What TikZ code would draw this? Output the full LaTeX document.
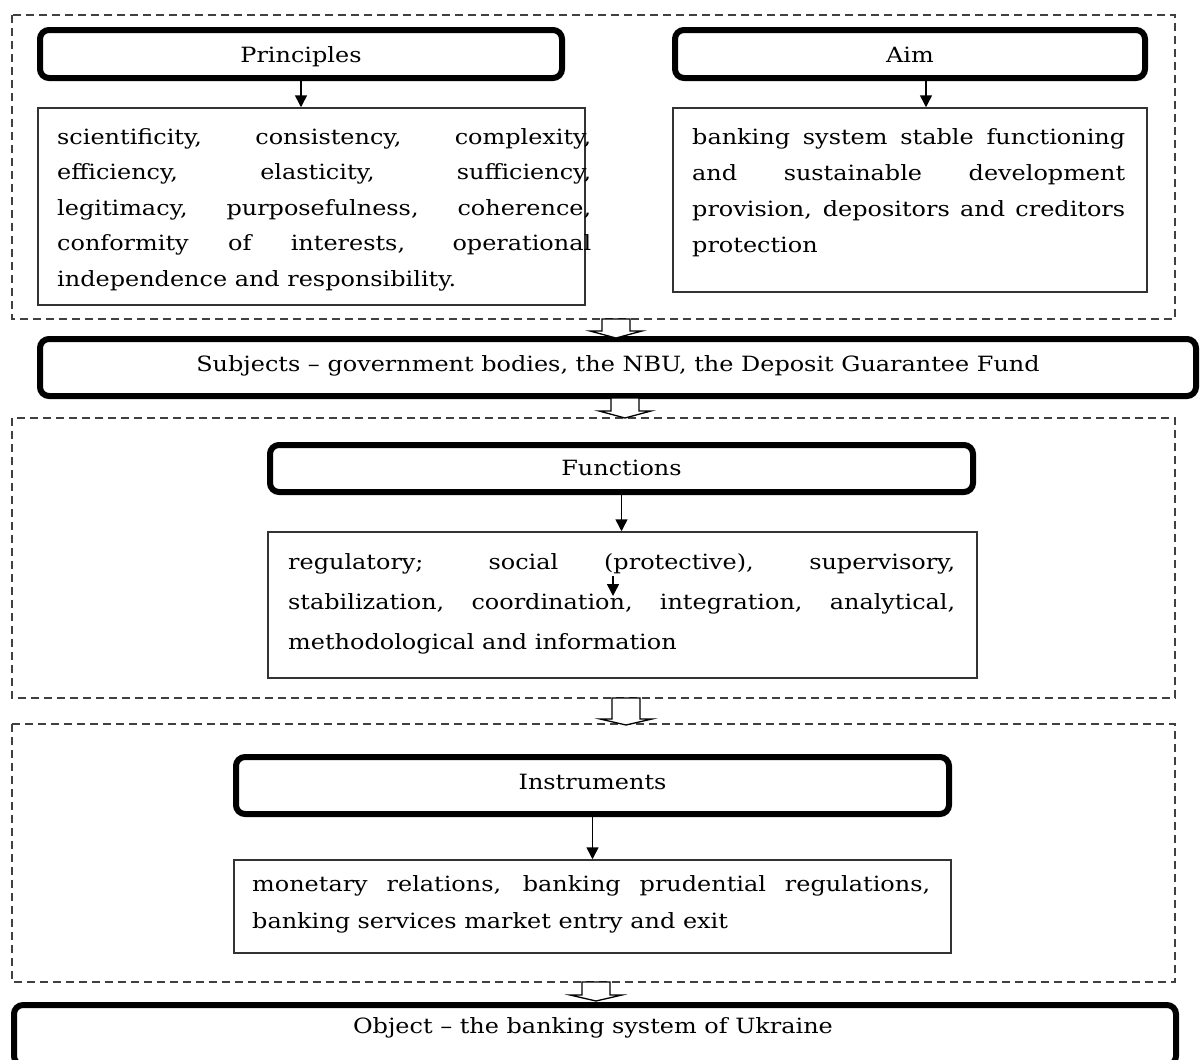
\documentclass[tikz,border=0pt]{standalone}
\usepackage{fontspec}
\setmainfont{DejaVu Serif}[FakeStretch=1.14]
\usetikzlibrary{arrows.meta}
\hbadness=10000
\def\blockarrow(#1:#2:#3:#4){\draw[line width=1.3, fill=white] (#1-14, #2) -- (#1+14, #2) -- (#1+14, #3) -- (#1+26, #3) -- (#1, #4) -- (#1-26, #3) -- (#1-14, #3) -- cycle;}

\tikzset{
	titlebox/.style={draw, line width=6, rounded corners=9, inner sep=0, font=\fontsize{21}{25}\selectfont},
	listbox/.style={draw, line width=1.5, color=black!80, inner sep=0},
	listtext/.style={anchor=west, inner sep=0, align=justify},
	dashbox/.style={draw, dashed, dash pattern=on 8 off 5, line width=1.3, color=black!75},
	arr/.style={-{Triangle[width=12, length=12]}, line width=1.5}
}

\begin{document}
\begin{tikzpicture}[x=1pt, y=-1pt]
			%%%%% START %%%%%
			\useasboundingbox (0, 0) rectangle (1200, 1060);
			\clip (0, 0) rectangle (1200, 1060);
			
			\draw[dashbox] (12, 15) rectangle (1175, 319);
			\draw[dashbox] (12, 418) rectangle (1175, 698);
			\draw[dashbox] (12, 724) rectangle (1175, 982);
			
			% principles and aim
			\node[titlebox, minimum width=522, minimum height=48, text height=18.5, text depth=2.5] (prin) at (301, 54) {Principles};
			\node[titlebox, minimum width=470, minimum height=48, text height=18.5, text depth=2.5] (aim) at (910, 54) {Aim};
			
			\node[listbox, minimum width=547, minimum height=197] (prinlist) at (311.5, 206.5) {};
			\node[listtext, text width=534, font=\fontsize{21}{35.5}\selectfont] (printext) at (57, 209.5) {scientificity, consistency, complexity,\linebreak efficiency, elasticity, sufficiency,\linebreak legitimacy, purposefulness, coherence,\linebreak conformity of interests, operational\linebreak independence and responsibility.};
			
			\node[listbox, minimum width=474, minimum height=184] (aimlist) at (910, 200) {};
			\node[listtext, text width=433, font=\fontsize{21}{36}\selectfont] (aimtext) at (692, 192.5) {banking system stable functioning\linebreak and sustainable development\linebreak provision, depositors and creditors\linebreak protection};
			
			\draw[arr] (prin.south) -- (prin.south |- prinlist.north);
			\draw[arr] ([xshift=16]aim.south) -- ([xshift=16]aim.south |- aimlist.north);
			
			% subjects
			\node[titlebox, minimum width=1156, minimum height=57, text height=14, text depth=7] (subj) at (618, 367.5) {Subjects -- government bodies, the NBU, the Deposit Guarantee Fund};
			
			% functions
			\node[titlebox, minimum width=703, minimum height=47, text height=17, text depth=4] (func) at (621.5, 468.5) {Functions};
			\node[listbox, minimum width=709, minimum height=146] (funclist) at (622.5, 605) {};
			\node[listtext, text width=667, font=\fontsize{21}{40}\selectfont] (functext) at (288, 604) {regulatory; social (protective), supervisory,\linebreak stabilization, coordination, integration, analytical,\linebreak methodological and information};
			\draw[arr] (func.south) -- (func.south |- funclist.north);
			\coordinate (stray1) at (613, 576);
			\coordinate (stray2) at (613, 596);
			\draw[arr] (stray1) -- (stray2);
			
			% instruments
			\node[titlebox, minimum width=713, minimum height=57, text height=14, text depth=7] (instr) at (592.5, 785.5) {Instruments};
			\node[listbox, minimum width=717, minimum height=93] (instrlist) at (592.5, 906.5) {};
			\node[listtext, text width=678, font=\fontsize{21}{37}\selectfont] (instrtext) at (252, 904) {monetary relations, banking prudential regulations,\linebreak banking services market entry and exit};
			\draw[arr] (instr.south) -- (instr.south |- instrlist.north);
			
			% object
			\node[titlebox, minimum width=1162, minimum height=60, anchor=north] (obj) at (595, 1002) {};
			\node[inner sep=0, font=\fontsize{21}{25}\selectfont] (objtext) at (593, 1027.5) {Object -- the banking system of Ukraine};
			
			% hollow arrows between the blocks
			\blockarrow(616:319:331:338)
			\blockarrow(625:398:411:418)
			\blockarrow(626:698:719:725)
			\blockarrow(596:982:995:1001)
			
			%%%%% END %%%%%
		\end{tikzpicture}
\end{document}
